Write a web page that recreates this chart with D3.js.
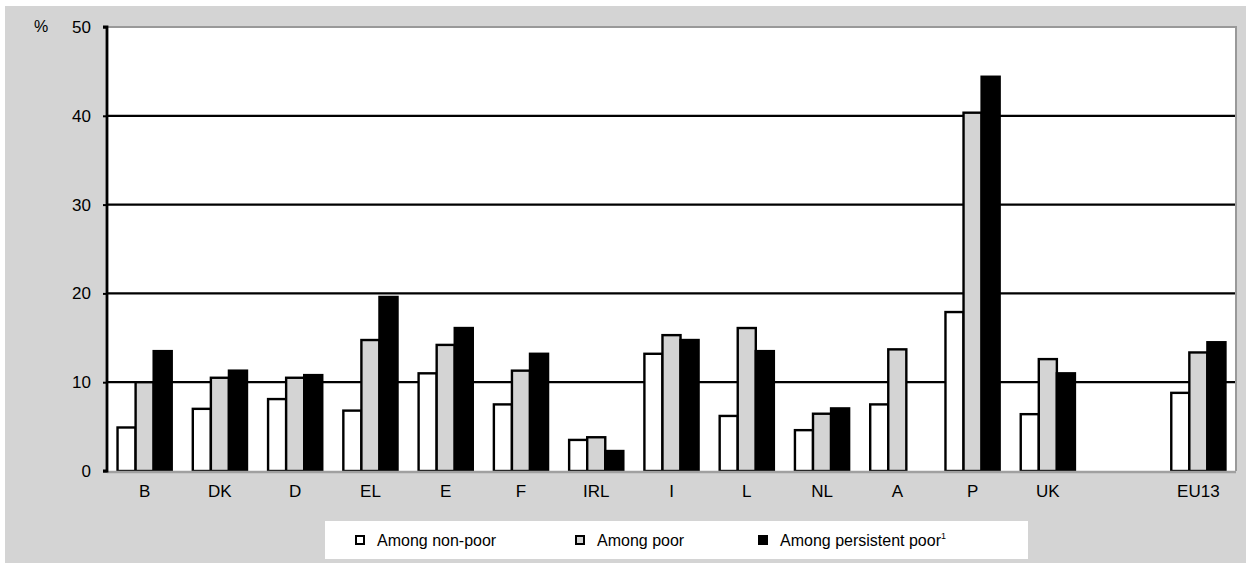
<!DOCTYPE html>
<html>
<head>
<meta charset="utf-8">
<script src="https://cdn.jsdelivr.net/npm/d3@7"></script>
<style>
  html, body { margin: 0; padding: 0; background: #fff; }
  svg { display: block; }
  text { font-family: "Liberation Sans", Arial, sans-serif; fill: #000; }
</style>
</head>
<body>
<svg id="chart" width="1246" height="563"></svg>
<script>
const categories = ["B", "DK", "D", "EL", "E", "F", "IRL", "I", "L", "NL", "A", "P", "UK", "", "EU13"];
const seriesNames = ["Among non-poor", "Among poor", "Among persistent poor"];
const nonPoor    = [4.9, 7.0, 8.1, 6.8, 11.0, 7.5, 3.5, 13.2, 6.2, 4.6, 7.5, 17.9, 6.4, null, 8.8];
const poor       = [10.0, 10.5, 10.5, 14.75, 14.2, 11.3, 3.8, 15.3, 16.1, 6.45, 13.7, 40.35, 12.6, null, 13.35];
const persistent = [13.5, 11.3, 10.8, 19.6, 16.1, 13.2, 2.25, 14.75, 13.5, 7.05, null, 44.4, 11.0, null, 14.5];
const yTicks = [0, 10, 20, 30, 40, 50];
const seriesFill = ["#ffffff", "#d4d4d4", "#000000"];

const svg = d3.select("#chart");
const W = 1246, H = 563;
const m = { left: 107, right: 10, top: 27, bottom: 92 };
const plotW = W - m.left - m.right; // 1129
const plotH = H - m.top - m.bottom; // 444

// background
svg.append("rect").attr("x", 5).attr("y", 6).attr("width", W - 5).attr("height", H - 6).attr("fill", "#d4d4d4");

const g = svg.append("g").attr("transform", `translate(${m.left},${m.top})`);

const x = d3.scaleBand().domain(d3.range(categories.length)).range([0, plotW]).paddingInner(0.28).paddingOuter(0.14);
const xs = d3.scaleBand().domain([0, 1, 2]).range([0, x.bandwidth()]);
const y = d3.scaleLinear().domain([0, 50]).range([plotH, 0]);

// plot area
g.append("rect").attr("x", 0).attr("y", 0).attr("width", plotW).attr("height", plotH).attr("fill", "#fff");

// gridlines
g.selectAll("line.grid").data(yTicks.filter(t => t > 0 && t < 50)).enter().append("line")
  .attr("class", "grid")
  .attr("x1", 0).attr("x2", plotW)
  .attr("y1", d => y(d)).attr("y2", d => y(d))
  .attr("stroke", "#000").attr("stroke-width", 2.2);

// border top/right
g.append("path").attr("d", `M0,${y(50)}H${plotW}V${plotH}`).attr("fill", "none").attr("stroke", "#999").attr("stroke-width", 2);

// bars
const allSeries = [nonPoor, poor, persistent];
allSeries.forEach((vals, si) => {
  g.selectAll(null).data(vals.map((v, i) => ({ v, i }))).enter()
    .filter(d => d.v != null)
    .append("rect")
    .attr("x", d => x(d.i) + xs(si))
    .attr("y", d => y(d.v))
    .attr("width", xs.bandwidth())
    .attr("height", d => y(0) - y(d.v))
    .attr("fill", seriesFill[si])
    .attr("stroke", "#000")
    .attr("stroke-width", 2.4);
});

// x axis baseline (gray)
g.append("line").attr("x1", 0).attr("x2", plotW).attr("y1", plotH + 1).attr("y2", plotH + 1)
  .attr("stroke", "#a0a0a0").attr("stroke-width", 2.5);

// y axis
const yAxis = d3.axisLeft(y).tickValues(yTicks).tickSize(4).tickPadding(12).tickFormat(d3.format("d"));
const ya = g.append("g").call(yAxis);
ya.select(".domain").attr("stroke", "#000").attr("stroke-width", 2.8).attr("d", `M-4,${plotH}H0V0H-4`);
ya.selectAll(".tick line").attr("stroke", "#000").attr("stroke-width", 2);
ya.selectAll(".tick text").attr("font-size", 17).attr("font-family", "Liberation Sans, Arial, sans-serif").attr("fill", "#000");

// x labels
const xa = g.append("g").attr("transform", `translate(0,${plotH})`)
  .call(d3.axisBottom(x).tickSize(0).tickPadding(14).tickFormat(i => categories[i]));
xa.select(".domain").remove();
xa.selectAll(".tick text").attr("font-size", 17).attr("font-family", "Liberation Sans, Arial, sans-serif").attr("fill", "#000");

// % label
svg.append("text").attr("x", 41).attr("y", 32).attr("text-anchor", "middle").attr("font-size", 16).text("%");

// legend
const leg = svg.append("g");
leg.append("rect").attr("x", 325).attr("y", 521).attr("width", 703).attr("height", 38).attr("fill", "#fff");
const legX = [355, 575, 758];
seriesNames.forEach((name, i) => {
  leg.append("rect").attr("x", legX[i] + 1).attr("y", 536).attr("width", 8).attr("height", 8)
    .attr("fill", seriesFill[i]).attr("stroke", "#000").attr("stroke-width", 2);
  const t = leg.append("text").attr("x", legX[i] + 22).attr("y", 546).attr("font-size", 16).text(name);
  if (i === 2) t.append("tspan").attr("font-size", 9).attr("dy", -7).text("1");
});
</script>
</body>
</html>
